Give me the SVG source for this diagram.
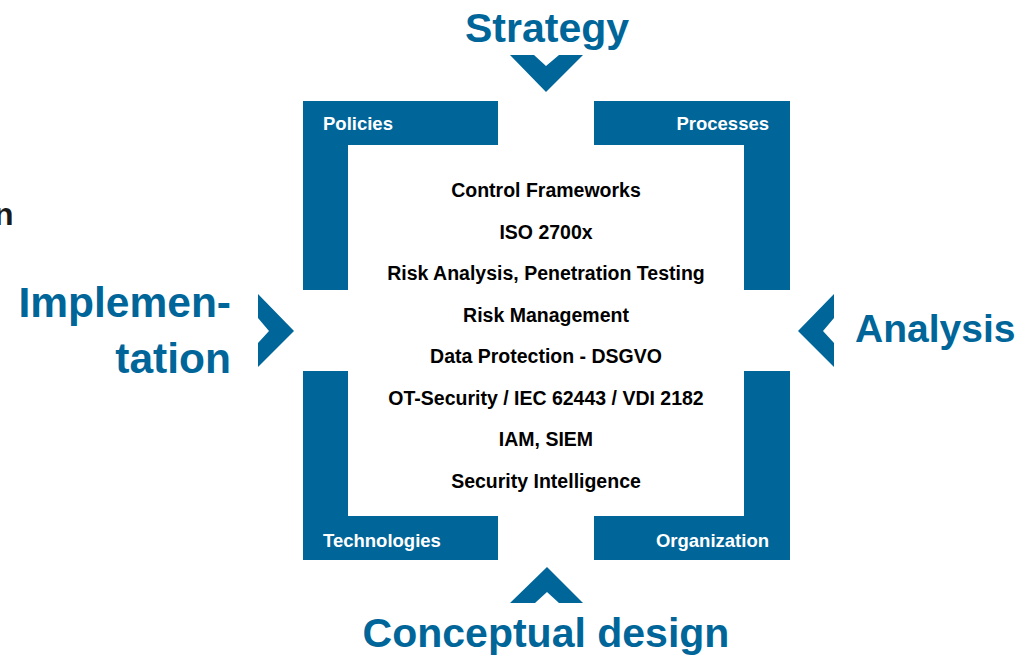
<svg xmlns="http://www.w3.org/2000/svg" width="1030" height="661" viewBox="0 0 1030 661">
<style>
.blk{fill:#006699;}
.big{font-family:"Liberation Sans",Arial,sans-serif;font-weight:bold;font-size:41px;fill:#006699;}
.lbl{font-family:"Liberation Sans",Arial,sans-serif;font-weight:bold;font-size:18.5px;fill:#ffffff;}
.item{font-family:"Liberation Sans",Arial,sans-serif;font-weight:bold;font-size:19.5px;fill:#000000;text-anchor:middle;}
</style>
<rect width="1030" height="661" fill="#ffffff"/>
<text x="-6" y="225" style="font-family:'Liberation Sans',Arial,sans-serif;font-weight:bold;font-size:32px;fill:#1a1a1a;">n</text>
<g id="policies">
<path class="blk" d="M303,101 H498 V145 H348 V290 H303 Z"/>
<text class="lbl" x="323" y="130">Policies</text>
</g>
<g id="processes">
<path class="blk" d="M594,101 H790 V290 H744 V145 H594 Z"/>
<text class="lbl" x="769" y="130" text-anchor="end">Processes</text>
</g>
<g id="technologies">
<path class="blk" d="M303,371 H348 V516 H498 V560 H303 Z"/>
<text class="lbl" x="323" y="547">Technologies</text>
</g>
<g id="organization">
<path class="blk" d="M744,371 H790 V560 H594 V516 H744 Z"/>
<text class="lbl" x="769" y="547" text-anchor="end">Organization</text>
</g>
<g id="strategy">
<path class="blk" d="M510,55 H534 L546,66 L559,55 H583 L546,92 Z"/>
<text class="big" x="547" y="42" text-anchor="middle">Strategy</text>
</g>
<g id="implementation">
<path class="blk" d="M258,294 L294,331 L258,367 V343 L269,331 L258,318 Z"/>
<text class="big" x="231" y="317" text-anchor="end" style="font-size:42.5px">Implemen-</text>
<text class="big" x="231" y="373" text-anchor="end" style="font-size:42.5px">tation</text>
</g>
<g id="analysis">
<path class="blk" d="M834,294 L798,331 L834,367 V343 L823,331 L834,318 Z"/>
<text class="big" x="855" y="342" style="font-size:39px">Analysis</text>
</g>
<g id="conceptual">
<path class="blk" d="M547,567 L583,603 H559 L547,592 L535,603 H510 Z"/>
<text class="big" x="546" y="647" text-anchor="middle">Conceptual design</text>
</g>
<g id="center-list">
<text class="item" x="546" y="197">Control Frameworks</text>
<text class="item" x="546" y="239">ISO 2700x</text>
<text class="item" x="546" y="280">Risk Analysis, Penetration Testing</text>
<text class="item" x="546" y="322">Risk Management</text>
<text class="item" x="546" y="363">Data Protection - DSGVO</text>
<text class="item" x="546" y="405">OT-Security / IEC 62443 / VDI 2182</text>
<text class="item" x="546" y="446">IAM, SIEM</text>
<text class="item" x="546" y="488">Security Intelligence</text>
</g>
<g id="connectors"></g>
</svg>
